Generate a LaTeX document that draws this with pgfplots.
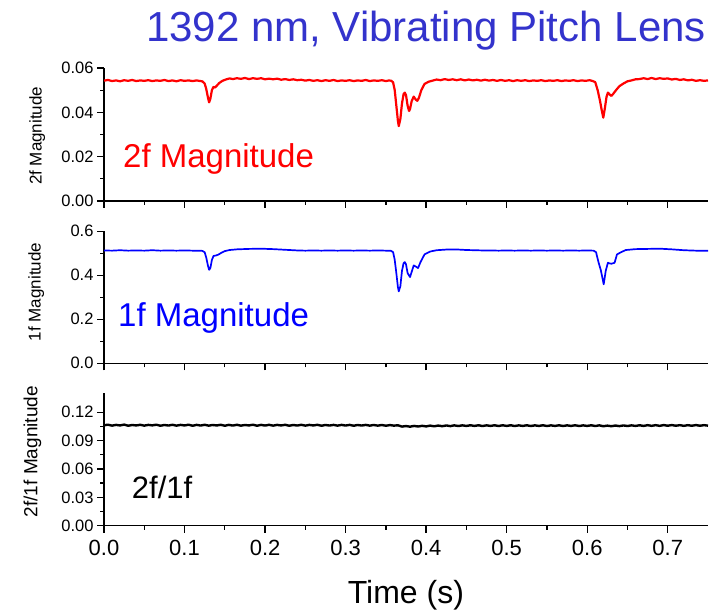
\documentclass[border=0pt]{standalone}
\usepackage{fontspec}
\setmainfont{Liberation Sans}
\usepackage{pgfplots}
\pgfplotsset{compat=1.18}
\definecolor{titleblue}{RGB}{51,51,204}

\pgfplotsset{
  panel/.style={
    scale only axis, width=604bp,
    xmin=0, xmax=0.75,
    axis x line*=bottom, axis y line*=left,
    axis line style={line width=1.4bp,-},
    tick align=outside, major tick length=7bp, minor tick length=4bp,
    every tick/.style={black, line width=1.3bp},
    xtick={0,0.1,0.2,0.3,0.4,0.5,0.6,0.7}, minor x tick num=1,
    minor y tick num=1,
    scaled y ticks=false, scaled x ticks=false,
    /pgf/number format/assume math mode=true,
    yticklabel style={font=\fontsize{16.5bp}{17bp}\selectfont, /pgf/number format/fixed, /pgf/number format/fixed zerofill},
    xticklabel style={font=\fontsize{22bp}{22bp}\selectfont, yshift=-4bp, /pgf/number format/fixed, /pgf/number format/fixed zerofill, /pgf/number format/precision=1},
    ylabel style={font=\fontsize{17bp}{17bp}\selectfont, anchor=base},
    clip=false,
  }
}

\begin{document}
\begin{tikzpicture}
\useasboundingbox (0,0) rectangle (711bp,613bp);

% ---------- top panel: 2f ----------
\begin{axis}[panel, at={(104bp,412bp)}, anchor=south west, height=133bp,
  ymin=0, ymax=0.06, ytick={0,0.02,0.04,0.06},
  yticklabel style={/pgf/number format/precision=2},
  xticklabels={},
  ylabel={2f Magnitude},
  ylabel style={at={(axis description cs:-0.1031,0.49)}},
  title={1392 nm, Vibrating Pitch Lens},
  title style={at={(axis description cs:0.9967,1)}, anchor=base east, yshift=21bp, inner sep=0pt,
    text=titleblue, font=\fontsize{42bp}{42bp}\selectfont},
]
\addplot[red, line width=2.2bp, line join=round] coordinates {
(0.000,0.0543)(0.005,0.0546)(0.010,0.0541)(0.015,0.0544)(0.020,0.0540)(0.025,0.0545)(0.030,0.0542)(0.035,0.0546)(0.040,0.0541)(0.045,0.0544)
(0.050,0.0542)(0.055,0.0545)(0.060,0.0541)(0.065,0.0544)(0.070,0.0542)(0.075,0.0546)(0.080,0.0541)(0.085,0.0544)(0.090,0.0540)(0.095,0.0545)
(0.100,0.0542)(0.105,0.0544)(0.110,0.0541)(0.115,0.0544)(0.118,0.0542)(0.122,0.0540)(0.125,0.0530)(0.127,0.0505)(0.129,0.0468)(0.1305,0.0445)
(0.132,0.0460)(0.134,0.0500)(0.136,0.0515)(0.138,0.0512)(0.140,0.0520)(0.143,0.0532)(0.147,0.0542)(0.152,0.0549)(0.156,0.0553)(0.160,0.0550)
(0.165,0.0554)(0.170,0.0551)(0.175,0.0555)(0.180,0.0550)(0.185,0.0554)(0.190,0.0551)(0.195,0.0554)(0.200,0.0549)(0.205,0.0552)(0.210,0.0549)
(0.215,0.0552)(0.220,0.0547)(0.225,0.0550)(0.230,0.0546)(0.235,0.0549)(0.240,0.0545)(0.245,0.0547)(0.250,0.0543)(0.255,0.0546)(0.260,0.0542)
(0.265,0.0545)(0.270,0.0541)(0.275,0.0545)(0.280,0.0542)(0.285,0.0546)(0.290,0.0541)(0.295,0.0544)(0.300,0.0542)(0.305,0.0545)(0.310,0.0541)
(0.315,0.0544)(0.320,0.0542)(0.325,0.0546)(0.330,0.0541)(0.335,0.0544)(0.340,0.0542)(0.345,0.0545)(0.350,0.0541)(0.354,0.0544)(0.357,0.0542)
(0.359,0.0535)(0.361,0.0500)(0.363,0.0430)(0.365,0.0360)(0.366,0.0338)(0.368,0.0370)(0.370,0.0440)(0.372,0.0482)(0.3735,0.0489)(0.375,0.0478)
(0.377,0.0430)(0.3788,0.0406)(0.380,0.0415)(0.382,0.0450)(0.3846,0.0471)(0.387,0.0458)(0.389,0.0452)(0.391,0.0465)(0.394,0.0500)(0.398,0.0528)
(0.403,0.0538)(0.408,0.0543)(0.413,0.0548)(0.418,0.0545)(0.423,0.0550)(0.428,0.0546)(0.433,0.0549)(0.438,0.0545)(0.443,0.0549)(0.448,0.0544)
(0.453,0.0548)(0.458,0.0544)(0.463,0.0547)(0.468,0.0543)(0.473,0.0547)(0.478,0.0543)(0.483,0.0546)(0.488,0.0542)(0.493,0.0546)(0.498,0.0542)
(0.503,0.0545)(0.508,0.0541)(0.513,0.0545)(0.518,0.0542)(0.523,0.0545)(0.528,0.0541)(0.533,0.0544)(0.538,0.0542)(0.543,0.0545)(0.548,0.0541)
(0.553,0.0544)(0.558,0.0542)(0.563,0.0545)(0.568,0.0541)(0.573,0.0544)(0.578,0.0542)(0.583,0.0545)(0.588,0.0541)(0.593,0.0544)(0.598,0.0542)
(0.603,0.0545)(0.607,0.0541)(0.610,0.0536)(0.613,0.0500)(0.616,0.0450)(0.618,0.0410)(0.620,0.0376)(0.622,0.0420)(0.624,0.0470)(0.6257,0.0489)
(0.628,0.0480)(0.630,0.0474)(0.632,0.0482)(0.636,0.0501)(0.640,0.0518)(0.645,0.0530)(0.650,0.0540)(0.655,0.0544)(0.660,0.0549)(0.665,0.0550)
(0.670,0.0554)(0.675,0.0550)(0.680,0.0555)(0.685,0.0550)(0.690,0.0554)(0.695,0.0551)(0.700,0.0553)(0.705,0.0548)(0.710,0.0551)(0.715,0.0546)
(0.720,0.0549)(0.725,0.0544)(0.730,0.0547)(0.735,0.0542)(0.740,0.0545)(0.745,0.0542)(0.750,0.0544)
};
\node[anchor=base west, inner sep=0pt, text=red, font=\fontsize{33bp}{33bp}\selectfont] at (axis cs:0.0236,0.0152) {2f Magnitude};
\end{axis}

% ---------- middle panel: 1f ----------
\begin{axis}[panel, at={(104bp,249.7bp)}, anchor=south west, height=132bp,
  ymin=0, ymax=0.6, ytick={0,0.2,0.4,0.6},
  yticklabel style={/pgf/number format/precision=1},
  xticklabels={},
  ylabel={1f Magnitude},
  ylabel style={at={(axis description cs:-0.105,0.54)}},
]
\addplot[blue, line width=1.7bp, line join=round] coordinates {
(0.000,0.513)(0.010,0.512)(0.020,0.514)(0.030,0.512)(0.040,0.513)(0.050,0.512)(0.060,0.514)(0.070,0.512)(0.080,0.513)(0.090,0.512)
(0.100,0.513)(0.110,0.512)(0.118,0.512)(0.122,0.511)(0.125,0.505)(0.127,0.480)(0.129,0.445)(0.1305,0.425)(0.132,0.432)(0.134,0.470)
(0.136,0.488)(0.139,0.490)(0.142,0.494)(0.146,0.503)(0.150,0.510)(0.156,0.515)(0.165,0.518)(0.180,0.520)(0.195,0.521)(0.210,0.519)
(0.225,0.516)(0.240,0.513)(0.250,0.512)(0.260,0.513)(0.270,0.512)(0.280,0.513)(0.290,0.512)(0.300,0.513)(0.310,0.512)(0.320,0.513)
(0.330,0.512)(0.340,0.513)(0.350,0.512)(0.356,0.512)(0.359,0.505)(0.361,0.470)(0.363,0.410)(0.365,0.345)(0.366,0.327)(0.368,0.350)
(0.370,0.420)(0.372,0.455)(0.3735,0.460)(0.375,0.450)(0.377,0.410)(0.380,0.392)(0.382,0.415)(0.3846,0.445)(0.387,0.440)(0.390,0.433)
(0.393,0.460)(0.398,0.495)(0.405,0.508)(0.413,0.514)(0.425,0.517)(0.440,0.517)(0.450,0.515)(0.460,0.514)(0.470,0.513)(0.480,0.513)
(0.490,0.512)(0.500,0.513)(0.510,0.512)(0.520,0.513)(0.530,0.512)(0.540,0.513)(0.550,0.512)(0.560,0.513)(0.570,0.512)(0.580,0.513)
(0.590,0.512)(0.600,0.513)(0.608,0.512)(0.611,0.505)(0.614,0.460)(0.617,0.422)(0.6205,0.359)(0.623,0.420)(0.6257,0.457)(0.628,0.454)
(0.630,0.4525)(0.634,0.457)(0.637,0.495)(0.642,0.505)(0.648,0.515)(0.660,0.519)(0.675,0.520)(0.690,0.521)(0.705,0.518)(0.720,0.514)
(0.735,0.512)(0.750,0.512)
};
\node[anchor=base west, inner sep=0pt, text=blue, font=\fontsize{33bp}{33bp}\selectfont] at (axis cs:0.0174,0.1656) {1f Magnitude};
\end{axis}

% ---------- bottom panel: 2f/1f ----------
\begin{axis}[panel, at={(104bp,87.3bp)}, anchor=south west, height=132.4bp,
  ymin=0, ymax=0.14, ytick={0,0.03,0.06,0.09,0.12},
  yticklabel style={/pgf/number format/precision=2},
  xlabel={Time (s)},
  xlabel style={font=\fontsize{32bp}{32bp}\selectfont, at={(axis description cs:0.4998,-0.585)}, anchor=base},
  ylabel={2f/1f Magnitude},
  ylabel style={at={(axis description cs:-0.1104,0.559)}, font=\fontsize{19bp}{19bp}\selectfont},
]
\addplot[black, line width=2.4bp, line join=round] coordinates {
(0.000,0.1062)(0.005,0.1068)(0.010,0.1058)(0.015,0.1066)(0.020,0.1060)(0.025,0.1069)(0.030,0.1057)(0.035,0.1065)(0.040,0.1060)(0.045,0.1067)
(0.050,0.1058)(0.055,0.1066)(0.060,0.1061)(0.065,0.1068)(0.070,0.1057)(0.075,0.1065)(0.080,0.1059)(0.085,0.1067)(0.090,0.1058)(0.095,0.1066)
(0.100,0.1060)(0.105,0.1068)(0.110,0.1057)(0.115,0.1066)(0.120,0.1059)(0.125,0.1067)(0.130,0.1058)(0.135,0.1065)(0.140,0.1060)(0.145,0.1067)
(0.150,0.1057)(0.155,0.1066)(0.160,0.1059)(0.165,0.1067)(0.170,0.1058)(0.175,0.1065)(0.180,0.1060)(0.185,0.1068)(0.190,0.1057)(0.195,0.1066)
(0.200,0.1059)(0.205,0.1067)(0.210,0.1058)(0.215,0.1066)(0.220,0.1060)(0.225,0.1067)(0.230,0.1057)(0.235,0.1065)(0.240,0.1059)(0.245,0.1067)
(0.250,0.1058)(0.255,0.1066)(0.260,0.1060)(0.265,0.1067)(0.270,0.1057)(0.275,0.1065)(0.280,0.1059)(0.285,0.1066)(0.290,0.1058)(0.295,0.1066)
(0.300,0.1059)(0.305,0.1066)(0.310,0.1057)(0.315,0.1065)(0.320,0.1059)(0.325,0.1066)(0.330,0.1058)(0.335,0.1065)(0.340,0.1058)(0.345,0.1065)
(0.350,0.1057)(0.355,0.1064)(0.360,0.1058)(0.365,0.1062)(0.370,0.1048)(0.375,0.1054)(0.380,0.1047)(0.385,0.1055)(0.390,0.1049)(0.395,0.1056)
(0.400,0.1050)(0.405,0.1058)(0.410,0.1051)(0.415,0.1059)(0.420,0.1052)(0.425,0.1060)(0.430,0.1053)(0.435,0.1061)(0.440,0.1054)(0.445,0.1061)
(0.450,0.1055)(0.455,0.1062)(0.460,0.1055)(0.465,0.1062)(0.470,0.1054)(0.475,0.1061)(0.480,0.1055)(0.485,0.1062)(0.490,0.1054)(0.495,0.1062)
(0.500,0.1055)(0.505,0.1062)(0.510,0.1054)(0.515,0.1061)(0.520,0.1055)(0.525,0.1062)(0.530,0.1054)(0.535,0.1061)(0.540,0.1055)(0.545,0.1062)
(0.550,0.1054)(0.555,0.1061)(0.560,0.1055)(0.565,0.1062)(0.570,0.1054)(0.575,0.1061)(0.580,0.1055)(0.585,0.1062)(0.590,0.1054)(0.595,0.1061)
(0.600,0.1055)(0.605,0.1062)(0.610,0.1054)(0.615,0.1061)(0.620,0.1052)(0.625,0.1058)(0.630,0.1052)(0.635,0.1059)(0.640,0.1053)(0.645,0.1060)
(0.650,0.1054)(0.655,0.1061)(0.660,0.1055)(0.665,0.1062)(0.670,0.1055)(0.675,0.1063)(0.680,0.1056)(0.685,0.1063)(0.690,0.1056)(0.695,0.1064)
(0.700,0.1057)(0.705,0.1064)(0.710,0.1057)(0.715,0.1063)(0.720,0.1056)(0.725,0.1063)(0.730,0.1057)(0.735,0.1064)(0.740,0.1057)(0.745,0.1063)
(0.750,0.1058)
};
\node[anchor=base west, inner sep=0pt, text=black, font=\fontsize{31bp}{31bp}\selectfont] at (axis cs:0.0344,0.0283) {2f/1f};
\end{axis}
\end{tikzpicture}
\end{document}
